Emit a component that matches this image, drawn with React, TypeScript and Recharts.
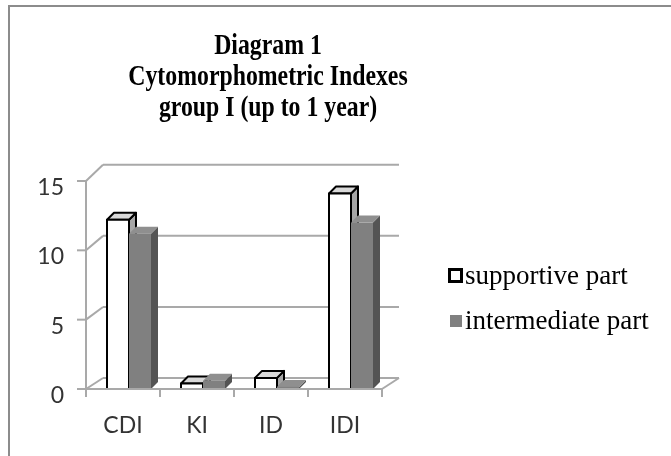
import * as React from "react";
import { Bar, BarChart, CartesianGrid, Legend, XAxis, YAxis } from "recharts";

const categories = ["CDI", "KI", "ID", "IDI"];
const supportive = [12.2, 0.4, 0.8, 14.1];
const intermediate = [11.2, 0.6, 0.15, 12.0];
const yTicks = [0, 5, 10, 15];
const titleLines = ["Diagram 1", "Cytomorphometric Indexes", "group I (up to 1 year)"];

const data = categories.map((c, i) => ({
  name: c,
  supportive: supportive[i],
  intermediate: intermediate[i],
}));

const W = 671;
const H = 456;
const M = { top: 181, right: 289, bottom: 27, left: 36 };
const PLOT_BOTTOM = H - M.bottom - 40;
const WALL_DX = 17;
const GRID = "#a9a9a9";
const DEPTH = 7;
const SHIFT = 6;
const AXIS_FONT = "Lato, 'Open Sans', sans-serif";
const SERIF = "'Liberation Serif', 'Times New Roman', serif";

// back wall sits a bit higher towards the top (fake perspective)
function wallDy(y: number) {
  return -11 - (PLOT_BOTTOM - y) * 0.025;
}

function GridLine(p: any) {
  const { x1, y1, x2, y2 } = p;
  const dy = wallDy(y1);
  const isFloor = Math.abs(y1 - PLOT_BOTTOM) < 1;
  return (
    <g>
      <line x1={x1} y1={y1} x2={x1 + WALL_DX} y2={y1 + dy} stroke={GRID} strokeWidth={2} />
      <line x1={x1 + WALL_DX} y1={y1 + dy} x2={x2 + WALL_DX} y2={y2 + dy} stroke={GRID} strokeWidth={2} />
      {isFloor && <line x1={x2} y1={y2} x2={x2 + WALL_DX} y2={y2 + dy} stroke={GRID} strokeWidth={2} />}
    </g>
  );
}

function Box(props: any) {
  const { x, y, width, height, kind } = props;
  if (x == null || y == null) return null;
  const bx = x + SHIFT;
  const w = width;
  const h = Math.max(height, 1);
  const top = y + height - h;
  const d = DEPTH;
  const white = kind === "supportive";
  const stroke = white ? "#000" : "none";
  const sw = white ? 2 : 0;
  return (
    <g strokeLinejoin="round">
      <polygon
        points={`${bx + w},${top} ${bx + w + d},${top - d} ${bx + w + d},${top + h - d} ${bx + w},${top + h}`}
        fill={white ? "#a6a6a6" : "#545454"}
        stroke={stroke}
        strokeWidth={sw}
      />
      <polygon
        points={`${bx},${top} ${bx + d},${top - d} ${bx + w + d},${top - d} ${bx + w},${top}`}
        fill={white ? "#d9d9d9" : "#8f8f8f"}
        stroke={stroke}
        strokeWidth={sw}
      />
      <rect x={bx} y={top} width={w} height={h} fill={white ? "#fff" : "#808080"} stroke={stroke} strokeWidth={sw} />
    </g>
  );
}

function XTick(p: any) {
  const { x, y, payload, index } = p;
  const half = payload?.offset || (W - M.left - 50 - M.right) / categories.length / 2;
  return (
    <g>
      <line x1={x - half} y1={y} x2={x - half} y2={y + 8} stroke={GRID} strokeWidth={2} />
      {index === categories.length - 1 && (
        <line x1={x + half} y1={y} x2={x + half} y2={y + 8} stroke={GRID} strokeWidth={2} />
      )}
      <text x={x} y={y + 44} textAnchor="middle" fontSize={23} fontFamily={AXIS_FONT} fill="#333">
        {payload.value}
      </text>
    </g>
  );
}

function YTick(p: any) {
  const { x, y, payload } = p;
  return (
    <text x={x} y={y + 14} textAnchor="end" fontSize={23} fontFamily={AXIS_FONT} fill="#333">
      {payload.value}
    </text>
  );
}

function LegendBox() {
  const items = [
    { label: "supportive part", white: true },
    { label: "intermediate part", white: false },
  ];
  return (
    <div style={{ fontFamily: SERIF, fontSize: 27, color: "#000" }}>
      {items.map((it) => (
        <div key={it.label} style={{ display: "flex", alignItems: "center", height: 45, whiteSpace: "nowrap" }}>
          <span
            style={{
              display: "inline-block",
              boxSizing: "border-box",
              width: it.white ? 15 : 12,
              height: it.white ? 15 : 12,
              marginLeft: it.white ? 0 : 2,
              marginRight: it.white ? 2 : 3,
              background: it.white ? "#fff" : "#808080",
              border: it.white ? "3px solid #000" : "none",
            }}
          />
          {it.label}
        </div>
      ))}
    </div>
  );
}

export default function App() {
  return (
    <div>
      <style>{`body{overflow:hidden}`}</style>
      <div
        style={{
          position: "fixed",
          left: 8,
          top: 5,
          right: -20,
          bottom: -20,
          border: "2px solid #8c8c8c",
          background: "#fff",
        }}
      />
      <div
        style={{
          position: "absolute",
          left: 0,
          top: 29,
          width: 536,
          textAlign: "center",
          fontFamily: SERIF,
          fontWeight: "bold",
          fontSize: 29,
          lineHeight: "31px",
          color: "#000",
          transform: "scaleX(0.82)",
          transformOrigin: "268px 0",
        }}
      >
        {titleLines.map((t) => (
          <div key={t}>{t}</div>
        ))}
      </div>
      <div style={{ position: "absolute", left: 0, top: 0 }}>
        <BarChart width={W} height={H} data={data} margin={M} barCategoryGap={15} barGap={0}>
          <CartesianGrid vertical={false} horizontal={(p: any) => <GridLine key={p.key ?? p.index} {...p} />} />
          <XAxis
            dataKey="name"
            height={40}
            axisLine={{ stroke: GRID, strokeWidth: 2 }}
            tickLine={false}
            tickSize={0}
            tickMargin={0}
            tick={<XTick />}
            interval={0}
          />
          <YAxis
            width={50}
            domain={[0, 15]}
            ticks={yTicks}
            axisLine={{ stroke: GRID, strokeWidth: 2 }}
            tickLine={{ stroke: GRID, strokeWidth: 2 }}
            tickSize={9}
            tickMargin={13}
            tick={<YTick />}
          />
          <Legend
            layout="vertical"
            align="center"
            verticalAlign="middle"
            wrapperStyle={{ left: 448, top: 253, width: 220 }}
            content={() => <LegendBox />}
          />
          <Bar
            dataKey="supportive"
            name="supportive part"
            isAnimationActive={false}
            shape={(p: any) => <Box {...p} kind="supportive" />}
          />
          <Bar
            dataKey="intermediate"
            name="intermediate part"
            isAnimationActive={false}
            shape={(p: any) => <Box {...p} kind="intermediate" />}
          />
        </BarChart>
      </div>
    </div>
  );
}
